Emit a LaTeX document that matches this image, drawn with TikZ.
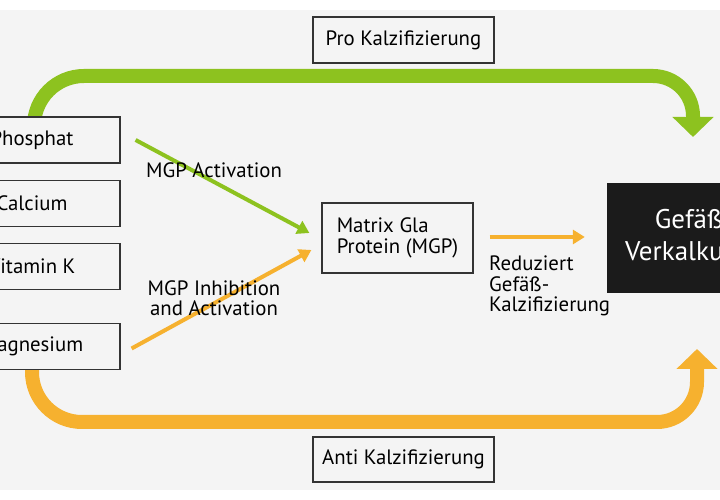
\documentclass[tikz,border=0pt]{standalone}
\usepackage{fontspec}
\setmainfont{PT Sans}
\usetikzlibrary{arrows.meta}
\definecolor{hgrau}{HTML}{F4F4F4}
\definecolor{gruen}{HTML}{8DC21F}
\definecolor{kgelb}{HTML}{F6B12F}
\definecolor{rahmen}{HTML}{333333}
\definecolor{schwarz}{HTML}{1B1B1B}
\tikzset{
	kasten/.style={draw=rahmen,fill=hgrau,line width=1.2pt,minimum height=46pt,inner sep=0pt},
	band/.style={draw=#1,line width=14pt,-{Triangle[width=40pt,length=20pt]}},
	pfeil/.style={line width=4pt,-{Triangle[width=14pt,length=12pt]}}
}
\begin{document}
\begin{tikzpicture}[x=1pt,y=1pt,font=\fontsize{20.8}{20.5}\selectfont]
	\path[use as bounding box] (0,0) rectangle (720,500);
	\clip (0,0) rectangle (720,500);
	\fill[hgrau] (0,10) rectangle (720,490);
	% Baender oben und unten
	\coordinate (proanf) at (34,360);
	\coordinate (antianf) at (32,153.5);
	\draw[band=gruen] (proanf) -- (34,374) arc[start angle=180,end angle=90,radius=50] -- (653,424) arc[start angle=90,end angle=0,radius=40] -- (693,363);
	\draw[band=kgelb] (antianf) -- (32,128) arc[start angle=180,end angle=270,radius=50] -- (657,78) arc[start angle=270,end angle=360,radius=40] -- (697,151);
	% Kaesten
	\node[kasten,minimum width=176pt] (phos) at (32,360) {Phosphat};
	\node[kasten,minimum width=176pt] (calc) at (32,296.5) {Calcium};
	\node[kasten,minimum width=176pt] (vitk) at (32,233.5) {Vitamin K};
	\node[kasten,minimum width=176pt] (magn) at (32,153.5) {Magnesium};
	\node[kasten,minimum width=151pt,minimum height=70pt,align=left] (mgp) at (397.5,262) {Matrix Gla\\Protein (MGP)};
	\node[fill=schwarz,text=white,minimum width=164pt,minimum height=110pt,align=center,font=\fontsize{27}{32}\selectfont] (gefaess) at (689,262) {Gefäß\\Verkalkung};
	\node[kasten,minimum width=181pt] (pro) at (403.5,460) {Pro Kalzifizierung};
	\node[kasten,minimum width=181pt,minimum height=45pt] (anti) at (403.5,40.5) {Anti Kalzifizierung};
	% Pfeile
	\draw[pfeil,gruen] ([xshift=15pt]phos.east) -- ([xshift=-12pt,yshift=5pt]mgp.west);
	\draw[pfeil,kgelb] ([xshift=11pt,yshift=-2pt]magn.east) -- ([xshift=-10pt,yshift=-12pt]mgp.west);
	\draw[pfeil,kgelb] ([xshift=16pt,yshift=1pt]mgp.east) -- ([xshift=-22pt,yshift=1pt]gefaess.west);
	% Beschriftungen
	\node (aktiv) at (214,330) {MGP Activation};
	\node[align=center] (hemm) at (214,202) {MGP Inhibition\\and Activation};
	\node[align=left,anchor=north west,inner sep=0pt] (redu) at (489,244) {Reduziert\\Gefäß-\\Kalzifizierung};
\end{tikzpicture}
\end{document}
